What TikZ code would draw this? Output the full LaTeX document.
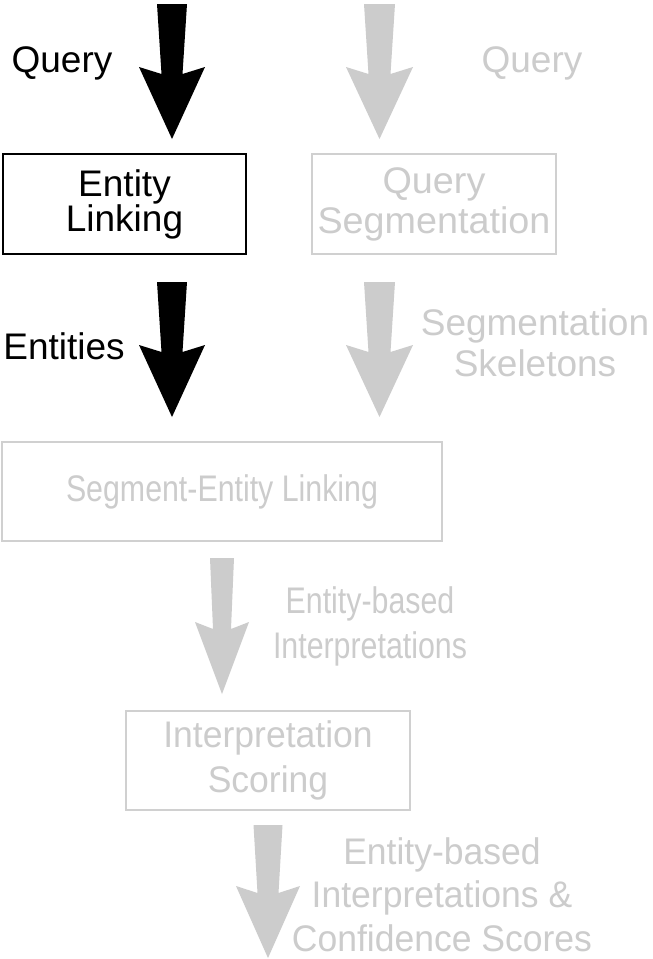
\documentclass[tikz,border=0pt]{standalone}
\usepackage{fontspec}
\setmainfont{Liberation Sans}
\newfontfamily\fwide{Liberation Sans}
\newfontfamily\fwideb{Liberation Sans}[FakeStretch=1.02]
\newfontfamily\fnarrow{Liberation Sans}[FakeStretch=0.82]
\newfontfamily\fmid{Liberation Sans}[FakeStretch=0.96]
\usetikzlibrary{calc}
\definecolor{lg}{RGB}{204,204,204}
\definecolor{lgb}{RGB}{208,208,208}
\newcommand\blockarrow[6]{%
  \fill[#1] let \p1=(#2), \p2=(#3) in
    (\x1-#4pt,\y1) -- (\x1+#4pt,\y1) -- (\x2+#5pt,\y2+65pt) -- (\x2+#6pt,\y2+72pt)
    -- (\x2,\y2) -- (\x2-#6pt,\y2+72pt) -- (\x2-#5pt,\y2+65pt) -- cycle;}
\begin{document}
\begin{tikzpicture}[x=1pt,y=-1pt,
  boxbase/.style={inner sep=0pt, align=center},
  blackbox/.style={boxbase, draw=black, line width=1.6pt, text=black},
  graybox/.style={boxbase, draw=lgb, line width=2pt, text=lg},
  lbl/.style={inner sep=0pt, anchor=north, align=center},
  blacklbl/.style={lbl, text=black, font={\fwide\fontsize{37}{38}\selectfont}},
  graylbl/.style={lbl, text=lg}]
\useasboundingbox (0,0) rectangle (653,959);
\fill[white] (0,0) rectangle (653,959);

% boxes
\node[blackbox, minimum width=243pt, minimum height=100pt,
  font={\fwide\fontsize{37}{35}\selectfont}] (EL) at (124.5,204) {Entity\\Linking};
\node[graybox, minimum width=244pt, minimum height=100pt,
  font={\fwideb\fontsize{37}{40}\selectfont}] (QS) at (434,204) {Query\\Segmentation};
\node[graybox, minimum width=440pt, minimum height=99pt,
  font={\fnarrow\fontsize{37}{40}\selectfont}] (SEL) at (222,491.5) {Segment-Entity Linking};
\node[graybox, minimum width=284pt, minimum height=99pt,
  font={\fmid\fontsize{37}{45}\selectfont}] (IS) at (268,760.5) {Interpretation\\Scoring};

% labels
\node[blacklbl] (lq) at (62,46) {Query};
\node[blacklbl] (le) at (64,332) {Entities};
\node[graylbl, font={\fwide\fontsize{37}{38}\selectfont}] (gq) at (532,46) {Query};
\node[graylbl, font={\fwide\fontsize{37}{41}\selectfont}] (gs) at (535,308) {Segmentation\\Skeletons};
\node[graylbl, font={\fnarrow\fontsize{37}{45}\selectfont}] (gi) at (370,586) {Entity-based\\Interpretations};
\node[graylbl, font={\fmid\fontsize{37}{43.5}\selectfont}] (gc) at (442,837) {Entity-based\\Interpretations \&\\Confidence Scores};

% arrow end points
\coordinate (a1s) at (172,4);
\coordinate (a1e) at (172,139);
\coordinate (a2s) at (172,282);
\coordinate (a2e) at (172,417);
\coordinate (g1s) at (379.5,4);
\coordinate (g1e) at (379.5,139);
\coordinate (g2s) at (379.5,282);
\coordinate (g2e) at (379.5,417);
\coordinate (a3s) at (222,558);
\coordinate (a3e) at (222,694);
\coordinate (a4s) at (268,825);
\coordinate (a4e) at (268,958);

\blockarrow{black}{a1s}{a1e}{15}{10.5}{33}
\blockarrow{black}{a2s}{a2e}{15}{10.5}{33}
\blockarrow{lg}{g1s}{g1e}{15.5}{11}{33.5}
\blockarrow{lg}{g2s}{g2e}{15.5}{11}{33.5}
\blockarrow{lg}{a3s}{a3e}{12}{9}{27}
\blockarrow{lg}{a4s}{a4e}{14.5}{10.5}{32}
\end{tikzpicture}
\end{document}
